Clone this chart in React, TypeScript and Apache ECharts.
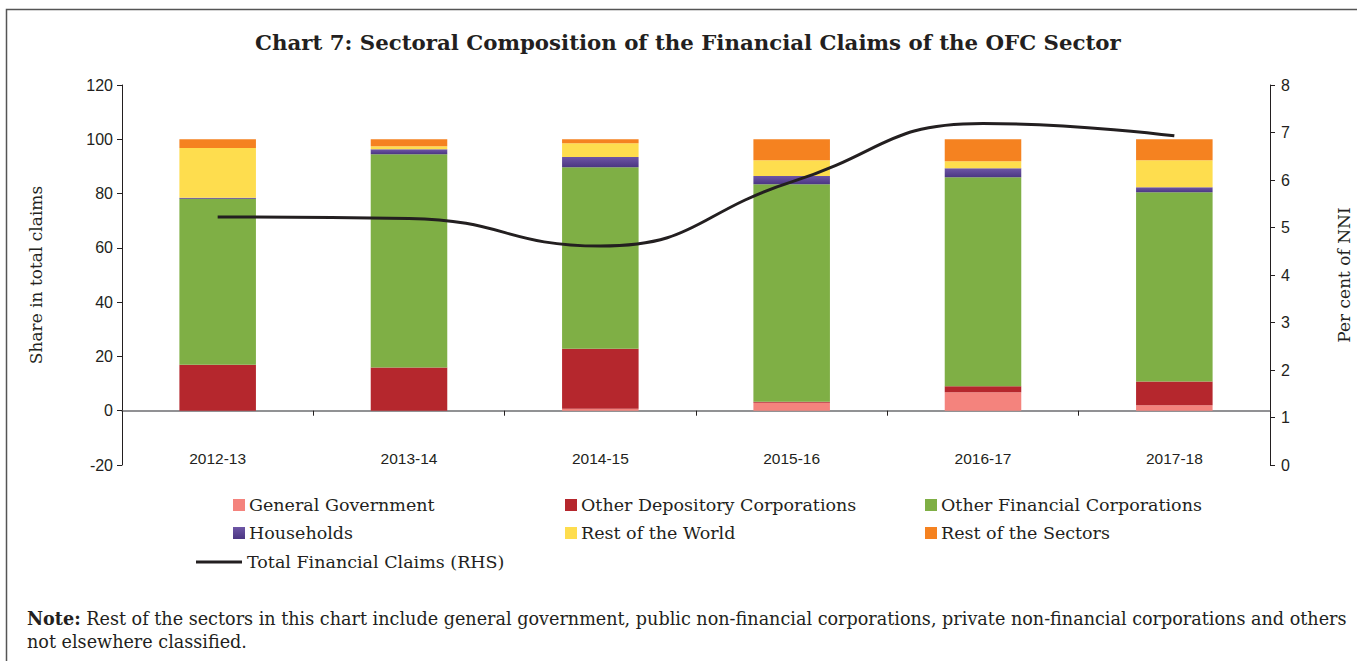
import React, { useEffect, useRef } from "react";
import * as echarts from "echarts";

const categories = ["2012-13", "2013-14", "2014-15", "2015-16", "2016-17", "2017-18"];
const generalGovernment = [0, 0, 0.7, 2.9, 6.8, 2.0];
const otherDepository = [16.9, 15.9, 22.1, 0.4, 2.2, 8.8];
const otherFinancial = [61.2, 78.6, 66.9, 80.1, 77.0, 69.7];
const households = [0.4, 1.8, 3.8, 3.1, 3.3, 1.8];
const restOfWorld = [18.3, 1.1, 5.0, 5.8, 2.6, 10.0];
const restOfSectors = [3.2, 2.6, 1.5, 7.7, 8.1, 7.7];
const totalClaims = [5.22, 5.19, 4.61, 5.96, 7.19, 6.93];

const leftTicks = { min: -20, max: 120, interval: 20 };
const rightTicks = { min: 0, max: 8, interval: 1 };

const SERIF = "'DejaVu Serif', serif";
const SANS = "'Liberation Sans', sans-serif";
const TXT = "#231F20";

export default function App() {
  const ref = useRef<HTMLDivElement>(null);
  useEffect(() => {
    document.body.style.margin = "0";
    const chart = echarts.init(ref.current!, null, { renderer: "svg" });
    const barNames = [
      "General Government",
      "Other Depository Corporations",
      "Other Financial Corporations",
      "Households",
      "Rest of the World",
      "Rest of the Sectors",
    ];
    const barData = [generalGovernment, otherDepository, otherFinancial, households, restOfWorld, restOfSectors];
    const colors: any[] = [
      "#F4837D",
      "#B5272D",
      "#7FAF45",
      new echarts.graphic.LinearGradient(0, 0, 0, 1, [
        { offset: 0, color: "#6E56A6" },
        { offset: 1, color: "#4B3682" },
      ]),
      "#FEDD4E",
      "#F58220",
    ];
    const legendPos: [string, number, number][] = [
      ["General Government", 233, 496],
      ["Other Depository Corporations", 565, 496],
      ["Other Financial Corporations", 925, 496],
      ["Households", 233, 524],
      ["Rest of the World", 565, 524],
      ["Rest of the Sectors", 925, 524],
    ];
    const legends: any[] = legendPos.map(([n, x, y]) => ({
      data: [n],
      left: x,
      top: y,
      itemWidth: 12,
      itemHeight: 12,
      itemGap: 0,
      padding: 0,
      icon: "rect",
      textStyle: { fontFamily: SERIF, fontSize: 17.5, color: TXT, padding: [0, 0, 0, -1] },
    }));
    legends.push({
      data: [{ name: "Total Financial Claims (RHS)", icon: "path://M0,0 L46,0 L46,3 L0,3 Z" }],
      left: 196,
      top: 553,
      itemWidth: 46,
      itemHeight: 3,
      padding: 0,
      textStyle: { fontFamily: SERIF, fontSize: 17.5, color: TXT },
    });

    chart.setOption({
      animation: false,
      backgroundColor: "#ffffff",
      title: {
        text: "Chart 7: Sectoral Composition of the Financial Claims of the OFC Sector",
        left: 250,
        top: 27,
        textStyle: { fontFamily: SERIF, fontSize: 21.3, fontWeight: "bold", color: TXT },
      },
      legend: legends,
      grid: { left: 122, right: 87, top: 85, bottom: 196, containLabel: false, outerBoundsMode: "none" },
      xAxis: {
        type: "category",
        data: categories,
        axisLine: { onZero: true, lineStyle: { color: "#6D6E71", width: 1.5 } },
        axisTick: { show: true, length: 5, lineStyle: { color: TXT } },
        axisLabel: { margin: -15, fontFamily: SANS, fontSize: 15.5, color: TXT },
      },
      yAxis: [
        {
          type: "value",
          ...leftTicks,
          name: "Share in total claims",
          nameLocation: "middle",
          nameGap: 78,
          nameTextStyle: { fontFamily: SERIF, fontSize: 17, color: TXT },
          axisLine: { show: true, onZero: false, lineStyle: { color: TXT, width: 1 } },
          axisTick: { show: true, length: 5, lineStyle: { color: TXT } },
          axisLabel: { fontFamily: SANS, fontSize: 16, color: TXT, margin: 9 },
          splitLine: { show: false },
        },
        {
          type: "value",
          ...rightTicks,
          position: "right",
          name: "Per cent of NNI",
          nameLocation: "middle",
          nameGap: 65,
          nameTextStyle: { fontFamily: SERIF, fontSize: 17, color: TXT },
          axisLine: { show: true, onZero: false, lineStyle: { color: TXT, width: 1 } },
          axisTick: { show: true, length: 5, lineStyle: { color: TXT } },
          axisLabel: { fontFamily: SANS, fontSize: 16, color: TXT, margin: 11 },
          splitLine: { show: false },
        },
      ],
      series: [
        ...barNames.map((n, i) => ({
          name: n,
          type: "bar",
          stack: "total",
          barWidth: "40%",
          data: barData[i],
          itemStyle: { color: colors[i] },
        })),
        {
          name: "Total Financial Claims (RHS)",
          type: "line",
          yAxisIndex: 1,
          data: totalClaims,
          smooth: true,
          symbol: "none",
          lineStyle: { color: TXT, width: 3 },
          itemStyle: { color: TXT },
        },
      ],
      graphic: [
        {
          type: "rect",
          shape: { x: 6.5, y: 9.5, width: 1400, height: 700 },
          style: { fill: "none", stroke: "#555555", lineWidth: 1.5 },
          silent: true,
        },
        {
          type: "text",
          left: 27,
          top: 607,
          style: {
            text:
              "{b|Note:} Rest of the sectors in this chart include general government, public non-financial corporations, private non-financial corporations and others\nnot elsewhere classified.",
            fontFamily: SERIF,
            fontSize: 17.6,
            lineHeight: 23,
            fill: TXT,
            rich: { b: { fontFamily: SERIF, fontSize: 17.6, fontWeight: "bold", fill: TXT } },
          },
        },
      ],
    });
    return () => chart.dispose();
  }, []);
  return <div ref={ref} style={{ width: 1357, height: 661 }} />;
}
